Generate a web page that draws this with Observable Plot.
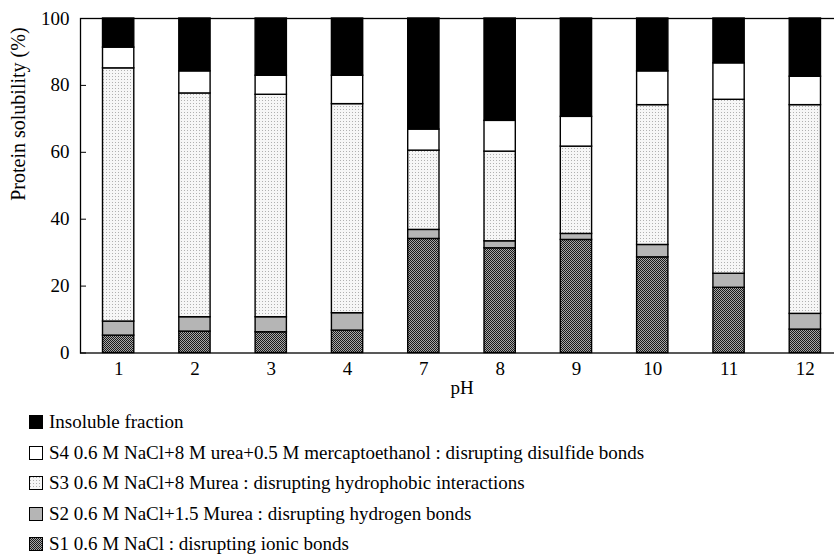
<!DOCTYPE html>
<html><head><meta charset="utf-8">
<script src="https://cdn.jsdelivr.net/npm/d3@7"></script>
<script src="https://cdn.jsdelivr.net/npm/@observablehq/plot@0.6"></script>
<style>
html,body{margin:0;padding:0;background:#fff;overflow:hidden;}
body{font-family:"Liberation Serif","Times New Roman",serif;color:#000;width:834px;height:555px;position:relative;}
#chart{position:absolute;left:0;top:0;width:834px;}
#legend{position:absolute;left:29px;top:407px;}
.row{display:flex;align-items:center;height:30.5px;font-size:19px;white-space:nowrap;}
.row svg{margin-right:6px;flex:none;}
</style></head>
<body>
<svg width="0" height="0" style="position:absolute">
  <defs>
    <pattern id="pS1" width="2" height="2" patternUnits="userSpaceOnUse">
      <rect width="2" height="2" fill="#a8a8a8"/>
      <rect x="0" y="0" width="1" height="1" fill="#1a1a1a"/>
      <rect x="1" y="1" width="1" height="1" fill="#1a1a1a"/>
    </pattern>
    <pattern id="pS2" width="3" height="3" patternUnits="userSpaceOnUse">
      <rect width="3" height="3" fill="#b5b5b5"/>
    </pattern>
    <pattern id="pS3" width="3" height="3" patternUnits="userSpaceOnUse">
      <rect width="3" height="3" fill="#f6f6f6"/>
      <rect x="1" y="1" width="1" height="1" fill="#b0b0b0"/>
    </pattern>
  </defs>
</svg>
<div id="chart"></div>
<div id="legend"></div>
<script>
const pH = ["1", "2", "3", "4", "7", "8", "9", "10", "11", "12"];
const S1 = [5.2, 6.4, 6.2, 6.7, 34.1, 31.3, 33.8, 28.6, 19.5, 7.0];
const S2 = [4.2, 4.3, 4.5, 5.2, 2.7, 2.1, 1.8, 3.7, 4.2, 4.7];
const S3 = [75.7, 66.9, 66.5, 62.5, 23.7, 26.8, 26.1, 41.8, 52.0, 62.4];
const S4 = [6.2, 6.6, 5.7, 8.5, 6.3, 9.2, 8.9, 10.1, 10.9, 8.5];
const Insoluble = [8.7, 15.8, 17.1, 17.1, 33.2, 30.6, 29.4, 15.8, 13.4, 17.4];
const seriesKeys = ["S1", "S2", "S3", "S4", "Insoluble"];
const seriesValues = [S1, S2, S3, S4, Insoluble];
const seriesFills = ["url(#pS1)", "url(#pS2)", "url(#pS3)", "#ffffff", "#000000"];
const legendLabels = [
  "Insoluble fraction",
  "S4 0.6 M NaCl+8 M urea+0.5 M mercaptoethanol : disrupting disulfide bonds",
  "S3 0.6 M NaCl+8 Murea : disrupting hydrophobic interactions",
  "S2 0.6 M NaCl+1.5 Murea : disrupting hydrogen bonds",
  "S1 0.6 M NaCl : disrupting ionic bonds"
];
const legendKeys = ["Insoluble", "S4", "S3", "S2", "S1"];
const yTicks = [0, 20, 40, 60, 80, 100];
const xTitle = "pH";
const yTitle = "Protein solubility (%)";

const data = [];
seriesKeys.forEach((s, si) => {
  pH.forEach((p, i) => data.push({pH: p, series: s, value: seriesValues[si][i]}));
});

const chart = Plot.plot({
  width: 834,
  height: 410,
  marginLeft: 80,
  marginRight: -9,
  marginTop: 18,
  marginBottom: 57.5,
  style: {fontFamily: "Liberation Serif, Times New Roman, serif", fontSize: "19px", color: "#000", background: "#fff", overflow: "hidden"},
  x: {domain: pH, paddingInner: 0.59, paddingOuter: 0.295, round: false, label: null},
  y: {domain: [0, 100], label: null},
  color: {domain: seriesKeys, range: seriesFills},
  marks: [
    Plot.barY(data, {x: "pH", y: "value", fill: "series", stroke: "#000", strokeWidth: 1.4}),
    Plot.frame({stroke: "#000", strokeWidth: 1.3}),
    Plot.axisY({ticks: yTicks, tickSize: 6, dx: 6, fill: "none", label: null, strokeWidth: 1}),
    Plot.axisY({ticks: yTicks, tickSize: 0, tickPadding: 11, label: null, fontSize: 19}),
    Plot.axisX({tickSize: 0, tickPadding: 8, label: null, fontSize: 19}),
    Plot.text([xTitle], {frameAnchor: "bottom", dy: 41, fontSize: 19}),
    Plot.text([yTitle], {frameAnchor: "left", dx: -62, dy: 15, rotate: -90, fontSize: 20})
  ]
});
document.getElementById("chart").appendChild(chart);

const legend = document.getElementById("legend");
legendKeys.forEach((k, i) => {
  const fill = seriesFills[seriesKeys.indexOf(k)];
  const row = document.createElement("div");
  row.className = "row";
  row.innerHTML = `<svg width="14" height="14"><rect x="0.5" y="0.5" width="13" height="13" fill="${fill}" stroke="#000" stroke-width="1"/></svg><span>${legendLabels[i]}</span>`;
  legend.appendChild(row);
});
</script>
</body></html>
